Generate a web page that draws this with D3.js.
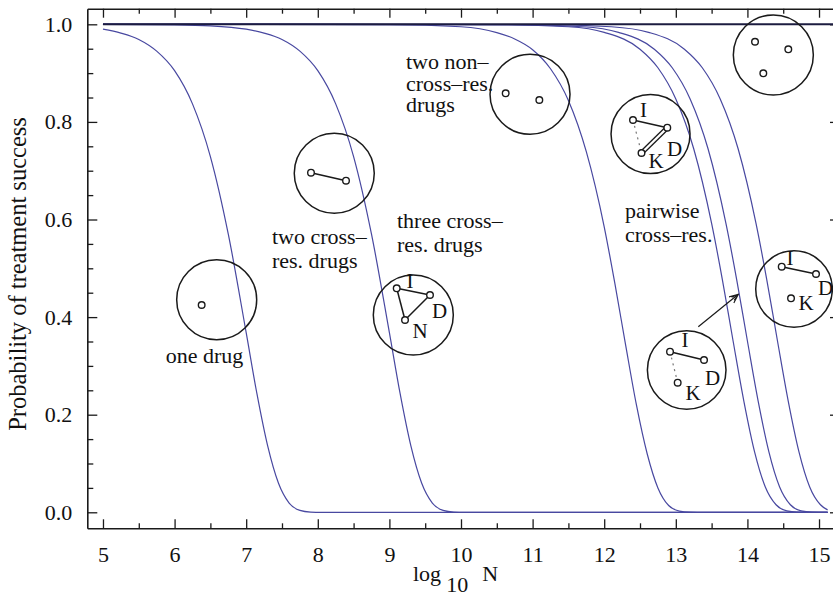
<!DOCTYPE html>
<html><head><meta charset="utf-8">
<script src="https://cdn.jsdelivr.net/npm/d3@7"></script>
<style>
body{margin:0;background:#fff}
svg{display:block}
text{font-family:"Liberation Serif","Times New Roman",serif;fill:#111}
</style>
</head><body>
<svg id="c" width="833" height="598"></svg>
<script>
// ---------- data ----------
const xTicks = [5,6,7,8,9,10,11,12,13,14,15];
const xTickLabels = ["5","6","7","8","9","10","11","12","13","14","15"];
const yTicks = [0,0.2,0.4,0.6,0.8,1.0];
const yTickLabels = ["0.0","0.2","0.4","0.6","0.8","1.0"];

const oneDrug = [[5.0,0.99],[5.25,0.982],[5.5,0.969],[5.75,0.945],[6.0,0.905],[6.25,0.837],[6.5,0.729],[6.75,0.57],[7.0,0.368],[7.15,0.243],[7.3,0.136],[7.45,0.06],[7.6,0.019],[7.75,0.004],[7.9,0.0005],[8.05,0],[15.12,0]];
const twoCrossRes = [[5.0,1.0],[6.0,0.999],[6.5,0.997],[7.0,0.99],[7.25,0.982],[7.5,0.969],[7.75,0.945],[8.0,0.905],[8.25,0.837],[8.5,0.729],[8.75,0.57],[9.0,0.368],[9.15,0.243],[9.3,0.136],[9.45,0.06],[9.6,0.019],[9.75,0.004],[9.9,0.0005],[10.05,0],[15.12,0]];
const twoNonCrossRes = [[5.0,1.0],[9.0,0.9995],[10.0,0.995],[10.5,0.983],[10.75,0.97],[11.0,0.948],[11.25,0.909],[11.5,0.844],[11.75,0.739],[12.0,0.585],[12.15,0.468],[12.3,0.342],[12.45,0.22],[12.6,0.12],[12.75,0.05],[12.9,0.014],[13.05,0.0025],[13.2,0.0002],[13.3,0],[15.12,0]];
const pairwiseA = [[5,1],[10.5,0.9995],[11.5,0.995],[12.0,0.9835],[12.5,0.949],[12.75,0.911],[13.0,0.847],[13.25,0.745],[13.5,0.592],[13.65,0.477],[13.8,0.351],[13.95,0.228],[14.1,0.124],[14.25,0.052],[14.4,0.0155],[14.55,0.0028],[14.7,0.0002],[14.8,0],[15.12,0]];
const pairwiseB = [[5,1],[10.7,0.9995],[11.7,0.995],[12.2,0.9835],[12.7,0.949],[12.95,0.911],[13.2,0.847],[13.45,0.745],[13.7,0.592],[13.85,0.477],[14.0,0.351],[14.15,0.228],[14.3,0.124],[14.45,0.052],[14.6,0.0155],[14.75,0.0028],[14.9,0.0002],[15.0,0],[15.12,0]];
const pairwiseC = [[5,1],[11.1,0.9995],[12.1,0.995],[12.62,0.9835],[13.12,0.949],[13.37,0.911],[13.62,0.847],[13.87,0.745],[14.12,0.592],[14.27,0.477],[14.42,0.351],[14.57,0.228],[14.72,0.124],[14.87,0.052],[15.02,0.0155],[15.12,0.005]];
const threeNonCrossRes = [[5,1],[15.2,1]];

// annotation texts (data coordinates: x = log10 N, y = probability)
const textLabels = [
  {t:"one drug", x:6.418, y:0.306, anchor:"middle"},
  {t:"two cross\u2013", x:7.36, y:0.5498, anchor:"start"},
  {t:"res. drugs", x:7.36, y:0.5006, anchor:"start"},
  {t:"three cross\u2013", x:9.106, y:0.5826, anchor:"start"},
  {t:"res. drugs", x:9.106, y:0.5334, anchor:"start"},
  {t:"two non\u2013", x:9.232, y:0.9092, anchor:"start"},
  {t:"cross\u2013res.", x:9.232, y:0.8641, anchor:"start"},
  {t:"drugs", x:9.232, y:0.8211, anchor:"start"},
  {t:"pairwise", x:12.291, y:0.6031, anchor:"start"},
  {t:"cross\u2013res.", x:12.291, y:0.5539, anchor:"start"}
];
// drug network diagrams
const diagrams = [
  {cx:6.588, cy:0.4355, r:40, nodes:[[6.378,0.4248]], solid:[], dotted:[], dbl:[], letters:[]},
  {cx:8.230, cy:0.6947, r:40, nodes:[[7.905,0.6959],[8.394,0.6795]], solid:[[0,1]], dotted:[], dbl:[], letters:[]},
  {cx:9.334, cy:0.4043, r:40, nodes:[[9.102,0.459],[9.567,0.4453],[9.218,0.3941]], solid:[[0,1],[1,2],[2,0]], dotted:[], dbl:[],
    letters:[["I",9.288,0.4596],["D",9.70,0.398],["N",9.427,0.357]]},
  {cx:10.964, cy:0.8566, r:40, nodes:[[10.624,0.8586],[11.094,0.8449]], solid:[], dotted:[], dbl:[], letters:[]},
  {cx:12.647, cy:0.7752, r:39.5, nodes:[[12.402,0.8039],[12.881,0.7881],[12.521,0.7363]], solid:[[0,1]], dotted:[[0,2]], dbl:[[2,1]],
    letters:[["I",12.549,0.81],["D",12.982,0.7301],["K",12.723,0.7055]]},
  {cx:14.362, cy:0.9371, r:40, nodes:[[14.106,0.9643],[14.571,0.9488],[14.222,0.8996]], solid:[], dotted:[], dbl:[], letters:[]},
  {cx:13.152, cy:0.2916, r:39.3, nodes:[[12.919,0.3291],[13.394,0.3121],[13.026,0.2656]], solid:[[0,1]], dotted:[[0,2]], dbl:[],
    letters:[["I",13.128,0.3393],["D",13.512,0.2609],["K",13.24,0.2301]]},
  {cx:14.651, cy:0.4576, r:38.3, nodes:[[14.479,0.5033],[14.958,0.4883],[14.609,0.4385]], solid:[[0,1]], dotted:[], dbl:[],
    letters:[["I",14.595,0.5068],["D",15.091,0.4453],["K",14.818,0.4145]]}
];
const arrow = [[13.314,0.3803],[13.873,0.4467]];

// ---------- chart ----------
const frame = {left:87.3, right:840, top:8.7, bottom:528.3};
const x = d3.scaleLinear().domain([4.781,15.293]).range([frame.left, frame.right]);
const y = d3.scaleLinear().domain([-0.0328,1.032]).range([frame.bottom, frame.top]);
const svg = d3.select("#c");
const ink = "#1a1a1a";
const curveCol = "#4848a0";

function styleAxis(g, fs){
  g.attr("font-family", null).attr("font-size", null);
  g.selectAll(".domain").attr("stroke", ink).attr("stroke-width", 1.6);
  g.selectAll(".tick line").attr("stroke", ink).attr("stroke-width", 1.3);
  g.selectAll("text").style("font-size", fs+"px").attr("fill", ink);
}
const xMinor = d3.range(5.5, 15, 1);
const yMinor = d3.range(0, 1.0001, 0.05).filter(v => Math.abs(v*5 - Math.round(v*5)) > 1e-6);

// bottom
svg.append("g").attr("transform",`translate(0,${frame.bottom})`)
  .call(d3.axisBottom(x).tickValues(xTicks).tickFormat((d,i)=>xTickLabels[i]).tickSize(-9).tickSizeOuter(0).tickPadding(18))
  .call(g=>styleAxis(g,22));
svg.append("g").attr("transform",`translate(0,${frame.bottom})`)
  .call(d3.axisBottom(x).tickValues(xMinor).tickFormat("").tickSize(-5).tickSizeOuter(0))
  .call(g=>{styleAxis(g,22); g.select(".domain").remove();});
// top
svg.append("g").attr("transform",`translate(0,${frame.top})`)
  .call(d3.axisTop(x).tickValues(xTicks).tickFormat("").tickSize(-9).tickSizeOuter(0))
  .call(g=>styleAxis(g,22));
svg.append("g").attr("transform",`translate(0,${frame.top})`)
  .call(d3.axisTop(x).tickValues(xMinor).tickFormat("").tickSize(-5).tickSizeOuter(0))
  .call(g=>{styleAxis(g,22); g.select(".domain").remove();});
// left
svg.append("g").attr("transform",`translate(${frame.left},0)`)
  .call(d3.axisLeft(y).tickValues(yTicks).tickFormat((d,i)=>yTickLabels[i]).tickSize(-10).tickSizeOuter(0).tickPadding(15))
  .call(g=>styleAxis(g,22));
svg.append("g").attr("transform",`translate(${frame.left},0)`)
  .call(d3.axisLeft(y).tickValues(yMinor).tickFormat("").tickSize(-6).tickSizeOuter(0))
  .call(g=>{styleAxis(g,22); g.select(".domain").remove();});
// right
svg.append("g").attr("transform",`translate(${frame.right},0)`)
  .call(d3.axisRight(y).tickValues(yTicks).tickFormat("").tickSize(-10).tickSizeOuter(0))
  .call(g=>styleAxis(g,22));

// axis titles
svg.append("text").attr("transform",`translate(26,274) rotate(-90)`).attr("text-anchor","middle")
  .style("font-size","24.5px").text("Probability of treatment success");
const xl = svg.append("text").attr("x",413).attr("y",581).style("font-size","22px");
xl.append("tspan").text("log");
xl.append("tspan").attr("dx",5).attr("dy",11).text("10");
xl.append("tspan").attr("dx",14).attr("dy",-11).text("N");

// curves
const line = d3.line().x(d=>x(d[0])).y(d=>y(d[1])).curve(d3.curveMonotoneX);
const series = [oneDrug, twoCrossRes, twoNonCrossRes, pairwiseA, pairwiseB, pairwiseC];
svg.append("g").selectAll("path").data(series).join("path")
  .attr("d", line).attr("fill","none").attr("stroke",curveCol).attr("stroke-width",1.2);
svg.append("path").datum(threeNonCrossRes).attr("d", line).attr("fill","none")
  .attr("stroke","#1c1c40").attr("stroke-width",2);

// text labels
svg.append("g").selectAll("text").data(textLabels).join("text")
  .attr("x",d=>x(d.x)).attr("y",d=>y(d.y)).attr("text-anchor",d=>d.anchor)
  .style("font-size","22px").text(d=>d.t);

// diagrams
const dg = svg.append("g");
diagrams.forEach(d=>{
  const g = dg.append("g");
  g.append("circle").attr("cx",x(d.cx)).attr("cy",y(d.cy)).attr("r",d.r)
    .attr("fill","none").attr("stroke",ink).attr("stroke-width",1.5);
  const P = d.nodes.map(n=>[x(n[0]),y(n[1])]);
  d.solid.forEach(([a,b])=>g.append("line").attr("x1",P[a][0]).attr("y1",P[a][1]).attr("x2",P[b][0]).attr("y2",P[b][1])
    .attr("stroke",ink).attr("stroke-width",1.5));
  d.dotted.forEach(([a,b])=>g.append("line").attr("x1",P[a][0]).attr("y1",P[a][1]).attr("x2",P[b][0]).attr("y2",P[b][1])
    .attr("stroke","#777").attr("stroke-width",1.2).attr("stroke-dasharray","2,4"));
  d.dbl.forEach(([a,b])=>{
    const dx=P[b][0]-P[a][0], dy=P[b][1]-P[a][1], L=Math.hypot(dx,dy), nx=-dy/L*1.8, ny=dx/L*1.8;
    [-1,1].forEach(s=>g.append("line").attr("x1",P[a][0]+s*nx).attr("y1",P[a][1]+s*ny)
      .attr("x2",P[b][0]+s*nx).attr("y2",P[b][1]+s*ny).attr("stroke",ink).attr("stroke-width",1.3));
  });
  g.selectAll("circle.n").data(P).join("circle").attr("class","n").attr("cx",p=>p[0]).attr("cy",p=>p[1])
    .attr("r",3.3).attr("fill","#fff").attr("stroke",ink).attr("stroke-width",1.4);
  g.selectAll("text").data(d.letters).join("text").attr("x",l=>x(l[1])).attr("y",l=>y(l[2]))
    .attr("text-anchor","middle").style("font-size","21px").text(l=>l[0]);
});

// arrow
svg.append("defs").append("marker").attr("id","ah").attr("viewBox","0 0 10 10").attr("refX",9).attr("refY",5)
  .attr("markerWidth",10).attr("markerHeight",10).attr("markerUnits","userSpaceOnUse").attr("orient","auto")
  .append("path").attr("d","M0,1 L9,5 L0,9 M2,3 L9,5 L2,7").attr("fill","none").attr("stroke",ink).attr("stroke-width",1.1);
svg.append("line").attr("x1",x(arrow[0][0])).attr("y1",y(arrow[0][1])).attr("x2",x(arrow[1][0])).attr("y2",y(arrow[1][1]))
  .attr("stroke",ink).attr("stroke-width",1.2).attr("marker-end","url(#ah)");
</script>
</body></html>
